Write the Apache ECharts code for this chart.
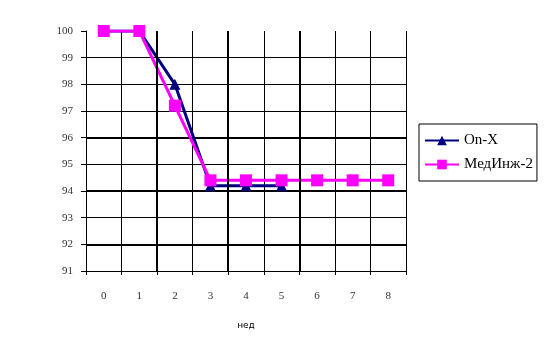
<!DOCTYPE html>
<html><head><meta charset="utf-8">
<script src="https://cdn.jsdelivr.net/npm/echarts@6/dist/echarts.min.js"></script>
<style>html,body{margin:0;padding:0;background:#fff}#c{width:555px;height:358px}</style>
</head><body><div id="c"></div>
<script>
const categories = ['0','1','2','3','4','5','6','7','8'];
const onX = [100, 100, 98.0, 94.2, 94.2, 94.2];
const medInzh = [100, 100, 97.2, 94.4, 94.4, 94.4, 94.4, 94.4, 94.4];
const yMin = 91, yMax = 100;
const thickY = [96, 94, 92];
const thickX = [2, 4, 6];
const xName = 'нед';

const serif = 'Liberation Serif';
const chart = echarts.init(document.getElementById('c'), null, {renderer:'canvas'});
chart.setOption({
  animation: false,
  backgroundColor: '#fff',
  grid: {left: 86, top: 31, width: 320, height: 240},
  legend: {
    data: ['On-X', 'МедИнж-2'],
    orient: 'vertical', left: 419, top: 124,
    borderColor: '#000', borderWidth: 1, borderRadius: 0,
    padding: [9, 4, 9, 5], itemGap: 9, itemWidth: 34, itemHeight: 12,
    textStyle: {fontFamily: serif, fontSize: 15, color: '#000'}
  },
  xAxis: [{
    type: 'category', data: categories, boundaryGap: true,
    name: xName, nameLocation: 'middle', nameGap: 50,
    nameTextStyle: {fontFamily: 'DejaVu Sans', fontSize: 9, color: '#000'},
    axisLine: {lineStyle: {color: '#000', width: 1}},
    axisTick: {show: true, length: 4, lineStyle: {color: '#000'}},
    axisLabel: {margin: 20, fontFamily: serif, fontSize: 11, color: '#333'},
    splitLine: {show: true, lineStyle: {color: '#000', width: 1}}
  }, {
    type: 'value', min: 0, max: 9, show: false, position: 'bottom'
  }],
  yAxis: {
    type: 'value', min: yMin, max: yMax, interval: 1,
    axisLine: {show: true, lineStyle: {color: '#000', width: 1}},
    axisTick: {show: true, length: 5, lineStyle: {color: '#000'}},
    axisLabel: {margin: 13, fontFamily: serif, fontSize: 11, color: '#333'},
    splitLine: {show: true, showMaxLine: false, lineStyle: {color: '#000', width: 1}}
  },
  series: [{
    name: 'On-X', type: 'line', data: onX,
    symbol: 'triangle', symbolSize: 11,
    lineStyle: {color: '#000080', width: 3},
    itemStyle: {color: '#000080'},
    z: 3
  }, {
    name: 'МедИнж-2', type: 'line', data: medInzh,
    symbol: 'rect', symbolSize: 12,
    lineStyle: {color: '#ff00ff', width: 3},
    itemStyle: {color: '#ff00ff'},
    z: 4,
    markLine: {
      silent: true, symbol: 'none', label: {show: false},
      lineStyle: {color: '#000', width: 2, type: 'solid'},
      z: 1,
      data: thickY.map(v => ({yAxis: v}))
    }
  }, {
    name: 'grid-x', type: 'line', xAxisIndex: 1, data: [[0, yMin]],
    symbol: 'none', lineStyle: {width: 0}, z: 1,
    markLine: {
      silent: true, symbol: 'none', label: {show: false},
      lineStyle: {color: '#000', width: 2, type: 'solid'},
      data: thickX.map(v => ({xAxis: v}))
    }
  }]
});
</script></body></html>
